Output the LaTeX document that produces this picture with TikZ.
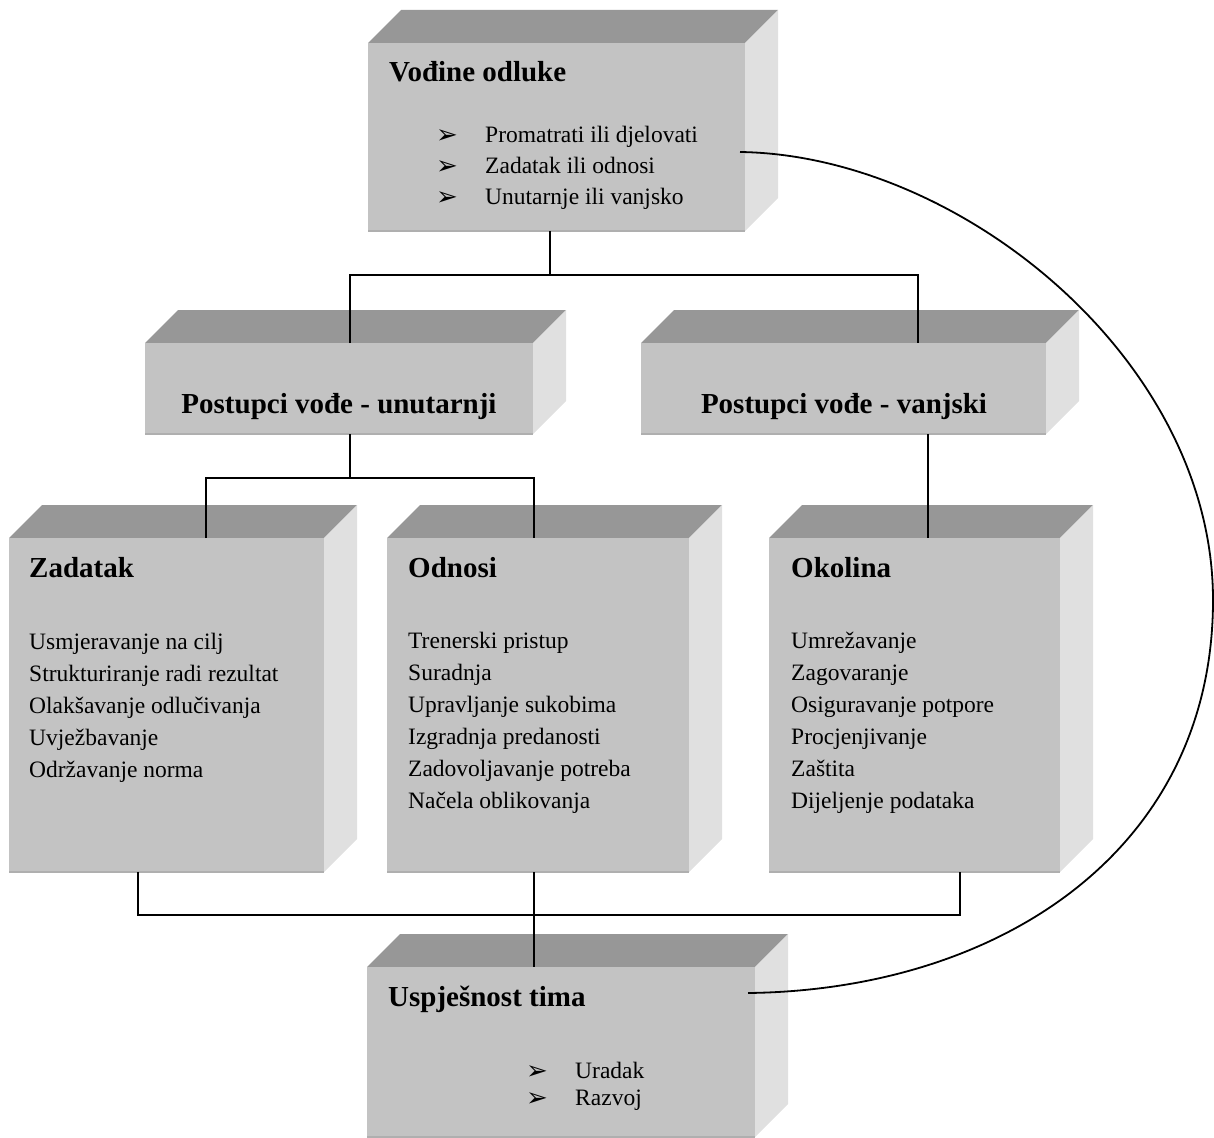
\documentclass[tikz,border=0pt]{standalone}
\usepackage{fontspec}
\setmainfont{Liberation Serif}
\newfontfamily\dv{DejaVu Sans}
\usetikzlibrary{calc}
\definecolor{frontc}{HTML}{C3C3C3}
\definecolor{topc}{HTML}{979797}
\definecolor{sidec}{HTML}{E0E0E0}
\definecolor{edgec}{HTML}{AFAFAF}
\newcommand\cube[5]{%
  \fill[topc] (#2,#3) -- ++(33,-33) -- (#4+33,#3-33) -- (#4,#3) -- cycle;
  \fill[sidec] (#4,#3) -- (#4+33,#3-33) -- (#4+33,#5-33) -- (#4,#5) -- cycle;
  \node[front, minimum width={#4pt-#2pt}, minimum height={#5pt-#3pt}] (#1) at (#2,#3) {};
  \draw[edgec, line width=1.5pt] (#1.south west) -- (#1.south east);
}
\tikzset{
  front/.style={fill=frontc, inner sep=0pt, outer sep=0pt, anchor=north west, draw=none},
  ttl/.style={font=\fontsize{29}{34}\selectfont\bfseries, inner sep=0pt, anchor=base west},
  mid/.style={font=\fontsize{29}{34}\selectfont\bfseries, inner sep=0pt, anchor=base},
  itm/.style={font=\fontsize{23.5}{28}\selectfont, inner sep=0pt, anchor=base west},
  arr/.style={font=\dv\fontsize{26}{30}\selectfont, inner sep=0pt, anchor=base west},
  conn/.style={line width=1.8pt, black}
}
\begin{document}
\begin{tikzpicture}[x=1pt,y=-1pt]
\useasboundingbox (0,0) rectangle (1214,1137);
% boxes
\cube{A}{368}{43}{745}{231}
\cube{B}{145}{343}{533}{434}
\cube{C}{641}{343}{1046}{434}
\cube{D}{9}{538}{324}{872}
\cube{E}{387}{538}{689}{872}
\cube{F}{769}{538}{1060}{872}
\cube{G}{367}{967}{755}{1137}
% texts A
\node[ttl] (At) at (389,82) {Vođine odluke};
\foreach \t [count=\i] in {Promatrati ili djelovati,Zadatak ili odnosi,Unutarnje ili vanjsko}{
  \node[arr] (Aa\i) at (436,{143+31*(\i-1)}) {➢};
  \node[itm] (Ai\i) at (485,{142+31*(\i-1)}) {\t};
}
\node[mid] (Bt) at (339,413) {Postupci vođe - unutarnji};
\node[mid] (Ct) at (844,413) {Postupci vođe - vanjski};
\node[ttl] (Dt) at (29,577) {Zadatak};
\foreach \t [count=\i] in {Usmjeravanje na cilj,Strukturiranje radi rezultat,Olakšavanje odlučivanja,Uvježbavanje,Održavanje norma}{
  \node[itm] (Di\i) at (29,{649+32*(\i-1)}) {\t};
}
\node[ttl] (Et) at (408,577) {Odnosi};
\foreach \t [count=\i] in {Trenerski pristup,Suradnja,Upravljanje sukobima,Izgradnja predanosti,Zadovoljavanje potreba,Načela oblikovanja}{
  \node[itm] (Ei\i) at (408,{648+32*(\i-1)}) {\t};
}
\node[ttl] (Ft) at (791,577) {Okolina};
\foreach \t [count=\i] in {Umrežavanje,Zagovaranje,Osiguravanje potpore,Procjenjivanje,Zaštita,Dijeljenje podataka}{
  \node[itm] (Fi\i) at (791,{648+32*(\i-1)}) {\t};
}
\node[ttl] (Gt) at (388,1006) {Uspješnost tima};
\foreach \t [count=\i] in {Uradak,Razvoj}{
  \node[arr] (Ga\i) at (526,{1079+27*(\i-1)}) {➢};
  \node[itm] (Gi\i) at (575,{1078+27*(\i-1)}) {\t};
}
% connector points
\coordinate (Ab) at ($(A.south west)+(182,0)$);
\coordinate (Aj) at ($(Ab)+(0,44)$);
\coordinate (Bn) at ($(B.north west)+(205,0)$);
\coordinate (Cn) at ($(C.north west)+(277,0)$);
\coordinate (Bb) at ($(B.south west)+(205,0)$);
\coordinate (Bj) at ($(Bb)+(0,44)$);
\coordinate (Dn) at ($(D.north west)+(197,0)$);
\coordinate (En) at ($(E.north west)+(147,0)$);
\coordinate (Cb) at ($(C.south west)+(287,0)$);
\coordinate (Fn) at ($(F.north west)+(159,0)$);
\coordinate (Db) at ($(D.south west)+(129,0)$);
\coordinate (Eb) at ($(E.south west)+(147,0)$);
\coordinate (Fb) at ($(F.south west)+(191,0)$);
\coordinate (Gn) at ($(G.north west)+(167,0)$);
\coordinate (Lj) at ($(Db)+(0,43)$);
\coordinate (As) at ($(A.north east)+(-5,109)$);
\coordinate (Gs) at ($(G.north east)+(-7,26)$);
% connectors
\draw[conn] (Ab) -- (Aj);
\draw[conn] (Bn) -- (Bn |- Aj) -- (Cn |- Aj) -- (Cn);
\draw[conn] (Bb) -- (Bj);
\draw[conn] (Dn) -- (Dn |- Bj) -- (En |- Bj) -- (En);
\draw[conn] (Cb) -- (Fn);
\draw[conn] (Db) -- (Lj) -- (Fb |- Lj) -- (Fb);
\draw[conn] (Eb) -- (Gn);
\draw[conn] (As) .. controls ($(As)+(220,3)$) and (1213,360) .. (1213,600)
  .. controls (1213,850) and ($(Gs)+(252,-3)$) .. (Gs);
\end{tikzpicture}
\end{document}
